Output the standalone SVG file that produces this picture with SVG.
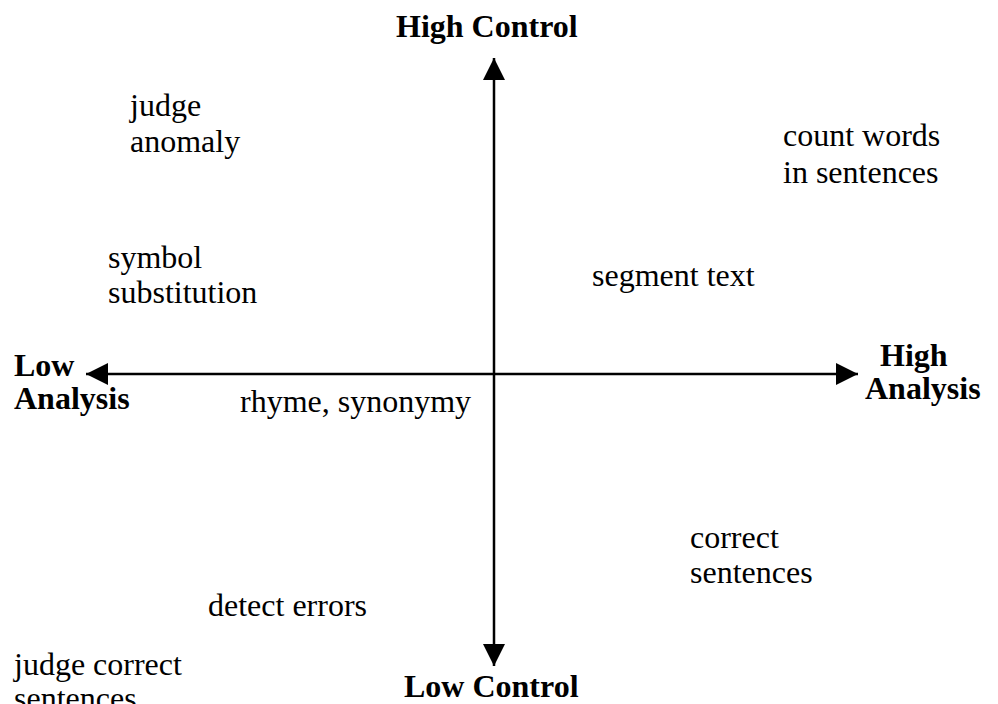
<svg xmlns="http://www.w3.org/2000/svg" width="998" height="704" viewBox="0 0 998 704">
<style>
text{font-family:"Liberation Serif","Times New Roman",serif;font-size:32px;fill:#000}
.b{font-weight:bold}
.ax{stroke:#000;stroke-width:2.5;fill:none}
</style>
<defs>
<marker id="ah" viewBox="0 0 22 22" refX="22" refY="11" markerWidth="22" markerHeight="22" markerUnits="userSpaceOnUse" orient="auto">
<path d="M0,0 L22,11 L0,22 Z" fill="#000"/>
</marker>
</defs>
<rect width="998" height="704" fill="#fff"/>
<g id="connectors">
<line class="ax" x1="494" y1="374" x2="494" y2="58" marker-end="url(#ah)"/>
<line class="ax" x1="494" y1="374" x2="494" y2="666" marker-end="url(#ah)"/>
<line class="ax" x1="494" y1="374" x2="86" y2="374" marker-end="url(#ah)"/>
<line class="ax" x1="494" y1="374" x2="858" y2="374" marker-end="url(#ah)"/>
</g>
<g id="high-control"><text class="b" x="396" y="37">High Control</text></g>
<g id="low-control"><text class="b" x="404" y="697">Low Control</text></g>
<g id="low-analysis"><text class="b" x="14" y="376">Low</text><text class="b" x="14" y="409">Analysis</text></g>
<g id="high-analysis"><text class="b" x="880" y="366">High</text><text class="b" x="865" y="399">Analysis</text></g>
<g id="judge-anomaly"><text x="130" y="116">judge</text><text x="130" y="152">anomaly</text></g>
<g id="count-words"><text x="783" y="146">count words</text><text x="783" y="183">in sentences</text></g>
<g id="symbol-substitution"><text x="108" y="268">symbol</text><text x="108" y="303">substitution</text></g>
<g id="segment-text"><text x="592" y="286">segment text</text></g>
<g id="rhyme-synonymy"><text x="240" y="412">rhyme, synonymy</text></g>
<g id="correct-sentences"><text x="690" y="548">correct</text><text x="690" y="583">sentences</text></g>
<g id="detect-errors"><text x="208" y="616">detect errors</text></g>
<g id="judge-correct"><text x="14" y="675">judge correct</text><text x="14" y="709">sentences</text></g>
</svg>
